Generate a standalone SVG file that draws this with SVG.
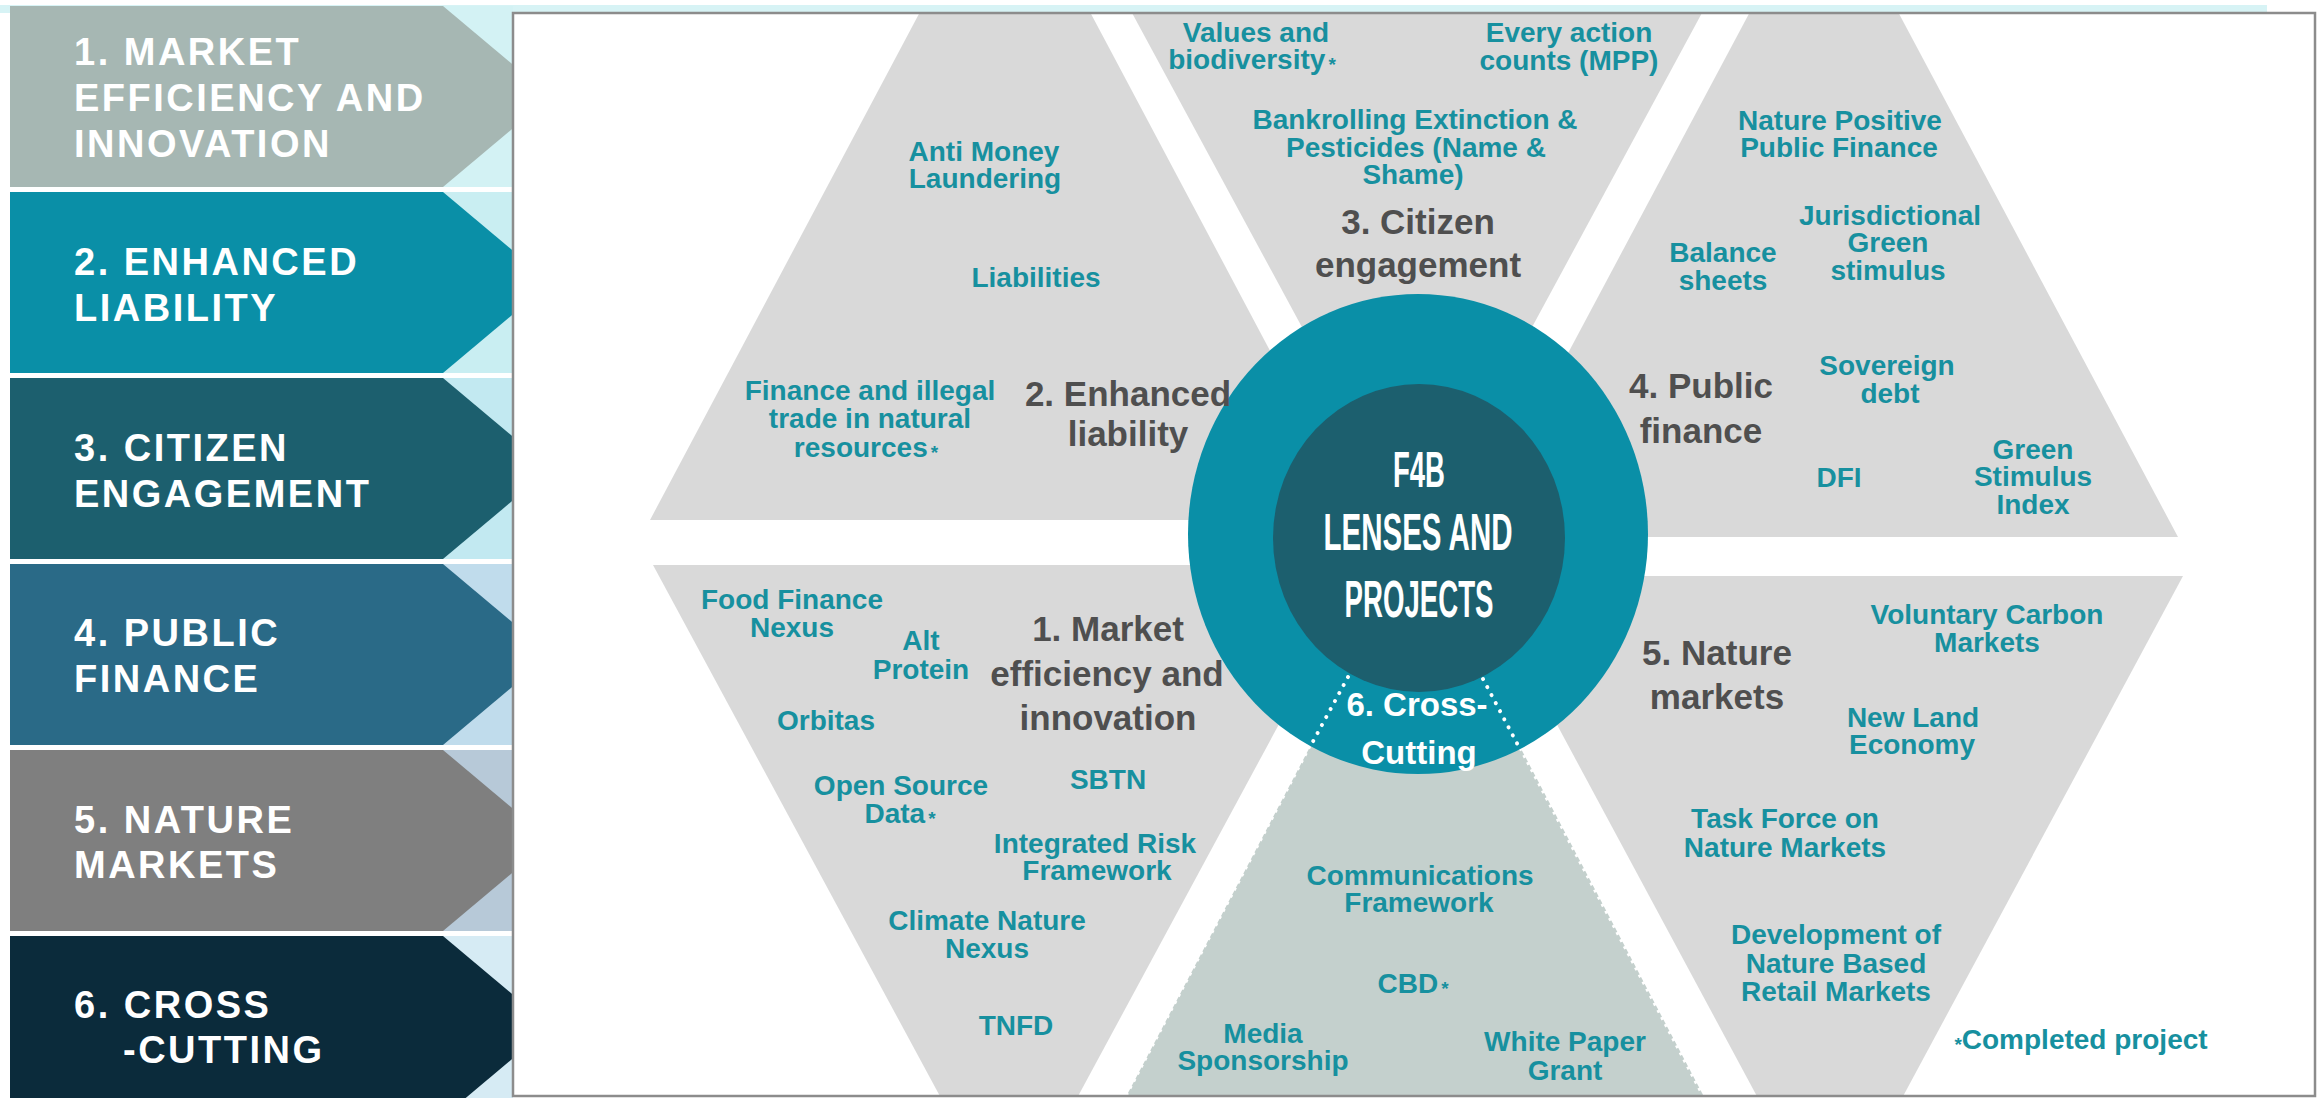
<svg xmlns="http://www.w3.org/2000/svg" width="2318" height="1098" viewBox="0 0 2318 1098">
<defs>
<style>
.lp{font-family:"Liberation Sans",Arial,sans-serif;font-weight:bold;font-size:38px;letter-spacing:2.5px;fill:#ffffff}
.t{font-family:"Liberation Sans",Arial,sans-serif;font-weight:bold;font-size:28px;fill:#17909f;text-anchor:middle}
.g{font-family:"Liberation Sans",Arial,sans-serif;font-weight:bold;font-size:35px;fill:#4f4f4f;text-anchor:middle}
.w{font-family:"Liberation Sans",Arial,sans-serif;font-weight:bold;font-size:33px;fill:#ffffff;text-anchor:middle}
.c{font-family:"Liberation Sans",Arial,sans-serif;font-weight:bold;fill:#ffffff;text-anchor:middle}
.ast{font-size:19px}
.tri{fill:#d9d9d9}
.tri6{fill:#c4d0cd}
.dots{fill:none;stroke:#ffffff;stroke-width:4;stroke-linecap:round;stroke-dasharray:0.1 9}
.saw{fill:none;stroke:#ffffff;stroke-width:3;stroke-dasharray:3 5}
</style>
<clipPath id="frameClip"><rect x="514" y="14" width="1800" height="1081"/></clipPath>
<clipPath id="panelClip"><rect x="0" y="0" width="513" height="1098"/></clipPath>
</defs>
<rect x="0" y="0" width="2318" height="1098" fill="#ffffff"/>
<rect x="0" y="5" width="2267" height="8" fill="#d7f3f5"/>

<g id="legend-panel" clip-path="url(#panelClip)">
  <rect x="430" y="6" width="83" height="181" fill="#d3f2f4"/>
  <rect x="430" y="192" width="83" height="181" fill="#c9eef2"/>
  <rect x="430" y="378" width="83" height="181" fill="#c2e9f1"/>
  <rect x="430" y="564" width="83" height="181" fill="#c0dcec"/>
  <rect x="430" y="750" width="83" height="181" fill="#b7c9d8"/>
  <rect x="430" y="936" width="83" height="162" fill="#d6ebf4"/>
  <g id="band-1"><polygon points="10,6 443,6 551,96.5 443,187 10,187" fill="#a6b7b3"/>
    <text class="lp" x="74" y="65">1. MARKET</text><text class="lp" x="74" y="111">EFFICIENCY AND</text><text class="lp" x="74" y="157">INNOVATION</text></g>
  <g id="band-2"><polygon points="10,192 443,192 551,282.5 443,373 10,373" fill="#0a8fa7"/>
    <text class="lp" x="74" y="275">2. ENHANCED</text><text class="lp" x="74" y="321">LIABILITY</text></g>
  <g id="band-3"><polygon points="10,378 443,378 551,468.5 443,559 10,559" fill="#1c5f6e"/>
    <text class="lp" x="74" y="461">3. CITIZEN</text><text class="lp" x="74" y="507">ENGAGEMENT</text></g>
  <g id="band-4"><polygon points="10,564 443,564 551,654.5 443,745 10,745" fill="#2a6a87"/>
    <text class="lp" x="74" y="646">4. PUBLIC</text><text class="lp" x="74" y="692">FINANCE</text></g>
  <g id="band-5"><polygon points="10,750 443,750 551,840.5 443,931 10,931" fill="#7f7f7f"/>
    <text class="lp" x="74" y="833">5. NATURE</text><text class="lp" x="74" y="878">MARKETS</text></g>
  <g id="band-6"><polygon points="10,936 443,936 551,1026.5 443,1117 10,1117" fill="#0b2b3b"/>
    <text class="lp" x="74" y="1018">6. CROSS</text><text class="lp" x="123" y="1063">-CUTTING</text></g>
</g>

<rect x="513" y="13" width="1802" height="1083" fill="#ffffff"/>

<g clip-path="url(#frameClip)">
  <g id="lens-2">
    <polygon class="tri" points="650,520 1005,-148 1360,520"/>
    <text class="t" x="984" y="161">Anti Money</text><text class="t" x="985" y="188">Laundering</text>
    <text class="t" x="1036" y="287">Liabilities</text>
    <text class="t" x="870" y="400">Finance and illegal</text><text class="t" x="870" y="428">trade in natural</text><text class="t" x="866" y="457">resources<tspan class="ast" dx="3" dy="2">*</tspan></text>
  </g>
  <g id="lens-3">
    <polygon class="tri" points="1098,-50 1736,-50 1417,540"/>
    <text class="t" x="1256" y="42">Values and</text><text class="t" x="1252" y="69">biodiversity<tspan class="ast" dx="3" dy="2">*</tspan></text>
    <text class="t" x="1569" y="42">Every action</text><text class="t" x="1569" y="70">counts (MPP)</text>
    <text class="t" x="1415" y="129">Bankrolling Extinction &amp;</text><text class="t" x="1416" y="157">Pesticides (Name &amp;</text><text class="t" x="1413" y="184">Shame)</text>
    <text class="g" x="1418" y="234">3. Citizen</text><text class="g" x="1418" y="277">engagement</text>
  </g>
  <g id="lens-4">
    <polygon class="tri" points="1470,537 1824,-127 2178,537"/>
    <text class="t" x="1840" y="130">Nature Positive</text><text class="t" x="1839" y="157">Public Finance</text>
    <text class="t" x="1723" y="262">Balance</text><text class="t" x="1723" y="290">sheets</text>
    <text class="t" x="1890" y="225">Jurisdictional</text><text class="t" x="1888" y="252">Green</text><text class="t" x="1888" y="280">stimulus</text>
    <text class="t" x="1887" y="375">Sovereign</text><text class="t" x="1890" y="403">debt</text>
    <text class="g" x="1701" y="398">4. Public</text><text class="g" x="1701" y="443">finance</text>
    <text class="t" x="1839" y="487">DFI</text>
    <text class="t" x="2033" y="459">Green</text><text class="t" x="2033" y="486">Stimulus</text><text class="t" x="2033" y="514">Index</text>
  </g>
  <g id="lens-1">
    <polygon class="tri" points="653,565 1365,565 1009,1224"/>
    <text class="t" x="792" y="609">Food Finance</text><text class="t" x="792" y="637">Nexus</text>
    <text class="t" x="921" y="650">Alt</text><text class="t" x="921" y="679">Protein</text>
    <text class="t" x="826" y="730">Orbitas</text>
    <text class="t" x="901" y="795">Open Source</text><text class="t" x="900" y="823">Data<tspan class="ast" dx="3" dy="2">*</tspan></text>
    <text class="t" x="1108" y="789">SBTN</text>
    <text class="t" x="1095" y="853">Integrated Risk</text><text class="t" x="1097" y="880">Framework</text>
    <text class="t" x="987" y="930">Climate Nature</text><text class="t" x="987" y="958">Nexus</text>
    <text class="t" x="1016" y="1035">TNFD</text>
  </g>
  <g id="lens-5">
    <polygon class="tri" points="1477,576 2183,576 1830,1232"/>
    <text class="t" x="1987" y="624">Voluntary Carbon</text><text class="t" x="1987" y="652">Markets</text>
    <text class="g" x="1717" y="665">5. Nature</text><text class="g" x="1717" y="709">markets</text>
    <text class="t" x="1913" y="727">New Land</text><text class="t" x="1912" y="754">Economy</text>
    <text class="t" x="1785" y="828">Task Force on</text><text class="t" x="1785" y="857">Nature Markets</text>
    <text class="t" x="1836" y="944">Development of</text><text class="t" x="1836" y="973">Nature Based</text><text class="t" x="1836" y="1001">Retail Markets</text>
  </g>
  <g id="lens-6">
    <polygon class="tri6" points="1415,547 1098,1150 1732,1150"/>
    <text class="t" x="1420" y="885">Communications</text><text class="t" x="1419" y="912">Framework</text>
    <text class="t" x="1413" y="993">CBD<tspan class="ast" dx="3" dy="2">*</tspan></text>
    <text class="t" x="1263" y="1043">Media</text><text class="t" x="1263" y="1070">Sponsorship</text>
    <text class="t" x="1565" y="1051">White Paper</text><text class="t" x="1565" y="1080">Grant</text>
  </g>
  <g id="connectors">
    <line class="saw" x1="1310" y1="746" x2="1126" y2="1096"/>
    <line class="saw" x1="1520" y1="748" x2="1703" y2="1096"/>
  </g>
  <g id="core">
    <ellipse cx="1418" cy="534" rx="230" ry="240" fill="#0a8fa7"/>
    <ellipse cx="1419" cy="538" rx="146" ry="154" fill="#1c5f6e"/>
    <text class="c" x="1419" y="487" font-size="50" textLength="52" lengthAdjust="spacingAndGlyphs">F4B</text>
    <text class="c" x="1418" y="550" font-size="52" textLength="189" lengthAdjust="spacingAndGlyphs">LENSES AND</text>
    <text class="c" x="1419" y="617" font-size="52" textLength="149" lengthAdjust="spacingAndGlyphs">PROJECTS</text>
    <line class="dots" x1="1348" y1="677" x2="1310" y2="747"/>
    <line class="dots" x1="1483" y1="679" x2="1520" y2="749"/>
    <text class="w" x="1417" y="716">6. Cross-</text>
    <text class="w" x="1419" y="764">Cutting</text>
  </g>
  <g id="lens-labels">
    <text class="g" x="1128" y="406">2. Enhanced</text><text class="g" x="1128" y="446">liability</text>
    <text class="g" x="1108" y="641">1. Market</text><text class="g" x="1107" y="686">efficiency and</text><text class="g" x="1108" y="730">innovation</text>
  </g>
  <g id="legend-note">
    <text class="t" x="2081" y="1049"><tspan class="ast" dy="2">*</tspan><tspan dy="-2">Completed project</tspan></text>
  </g>
</g>
<rect x="513" y="13" width="1802" height="1083" fill="none" stroke="#8c8c8c" stroke-width="2.5"/>
</svg>
